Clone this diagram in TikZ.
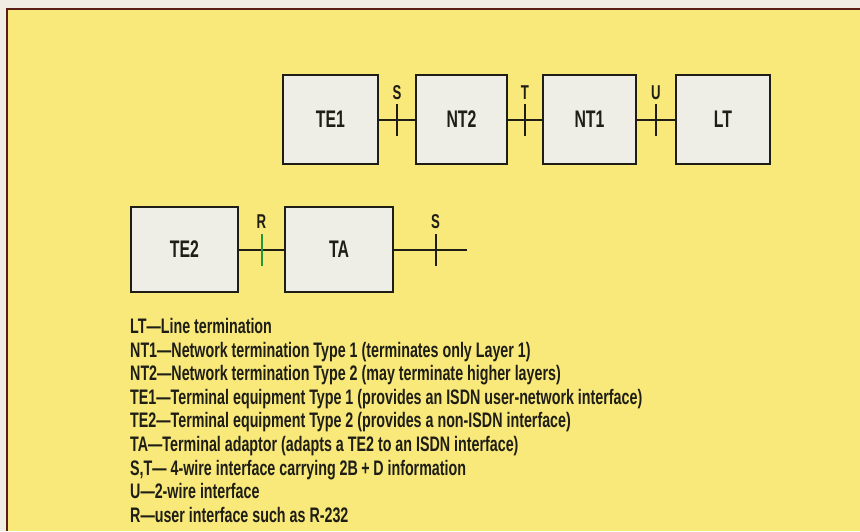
\documentclass[tikz,border=0pt]{standalone}
\usepackage{fontspec}
\setmainfont{Liberation Sans}
\newfontfamily\condfont[FakeStretch=0.66]{Liberation Sans Bold}
\newfontfamily\legfont[FakeStretch=0.68]{Liberation Sans Bold}
\usetikzlibrary{calc}
\definecolor{paper}{RGB}{240,238,228}
\definecolor{yel}{RGB}{249,233,122}
\definecolor{boxfill}{RGB}{238,237,230}
\definecolor{ink}{RGB}{30,30,22}
\definecolor{rgreen}{RGB}{40,150,60}
\definecolor{edge}{RGB}{90,30,20}
\tikzset{
  x=1pt,y=-1pt,
  unit/.style={draw=ink,line width=2pt,fill=boxfill,inner sep=0pt,
    font=\condfont\fontsize{24}{24}\selectfont,text=ink},
  wire/.style={draw=ink,line width=2pt},
  tickline/.style={draw=ink,line width=2pt},
  iflabel/.style={font=\condfont\fontsize{20}{20}\selectfont,text=ink,inner sep=0pt},
  legend/.style={anchor=base west,inner sep=0pt,font=\legfont\fontsize{21}{21}\selectfont,text=ink}
}
\begin{document}
\begin{tikzpicture}
\fill[paper] (0,0) rectangle (860,531);
\useasboundingbox (0,0) rectangle (860,531);
\fill[yel] (7,9) rectangle (860,531);
\draw[edge,line width=1.5pt] (7,531) -- (7,9) -- (860,9);

% top row
\node[unit,minimum width=95pt,minimum height=89pt] (te1) at (330.5,119.5) {TE1};
\node[unit,minimum width=91pt,minimum height=89pt] (nt2) at (461.5,119.5) {NT2};
\node[unit,minimum width=93pt,minimum height=89pt] (nt1) at (589.5,119.5) {NT1};
\node[unit,minimum width=94pt,minimum height=89pt] (lt) at (723,119.5) {LT};

\draw[wire] (te1) -- coordinate (s1) (nt2);
\draw[wire] (nt2) -- coordinate (t1) (nt1);
\draw[wire] (nt1) -- coordinate (u1) (lt);
\foreach \c/\l in {s1/S,t1/T,u1/U}{
  \draw[tickline] ([yshift=-16pt]\c) -- ([yshift=16pt]\c);
  \node[iflabel] (lab\c) at ([yshift=27pt]\c) {\l};
}

% bottom row
\node[unit,minimum width=107pt,minimum height=85pt] (te2) at (184.5,249.5) {TE2};
\node[unit,minimum width=108pt,minimum height=85pt] (ta) at (339,249.5) {TA};
\coordinate (send) at (467,249.5);
\draw[wire] (te2) -- coordinate (r1) (ta);
\draw[wire] (ta) -- coordinate[pos=0.57] (s2) (send);
\draw[draw=rgreen,line width=2pt] ([yshift=-16pt]r1) -- ([yshift=16pt]r1);
\draw[tickline] ([yshift=-16pt]s2) -- ([yshift=16pt]s2);
\node[iflabel] (labr) at ([yshift=28pt]r1) {R};
\node[iflabel] (labs2) at ([yshift=28pt]s2) {S};

% legend
\node[legend] (l1) at (130,333.5) {LT—Line termination};
\node[legend] (l2) at (130,357.1) {NT1—Network termination Type 1 (terminates only Layer 1)};
\node[legend] (l3) at (130,380.7) {NT2—Network termination Type 2 (may terminate higher layers)};
\node[legend] (l4) at (130,404.3) {TE1—Terminal equipment Type 1 (provides an ISDN user-network interface)};
\node[legend] (l5) at (130,427.9) {TE2—Terminal equipment Type 2 (provides a non-ISDN interface)};
\node[legend] (l6) at (130,451.5) {TA—Terminal adaptor (adapts a TE2 to an ISDN interface)};
\node[legend] (l7) at (130,475.1) {S,T— 4-wire interface carrying 2B\,+\,D information};
\node[legend] (l8) at (130,498.7) {U—2-wire interface};
\node[legend] (l9) at (130,522.3) {R—user interface such as R-232};
\end{tikzpicture}
\end{document}
